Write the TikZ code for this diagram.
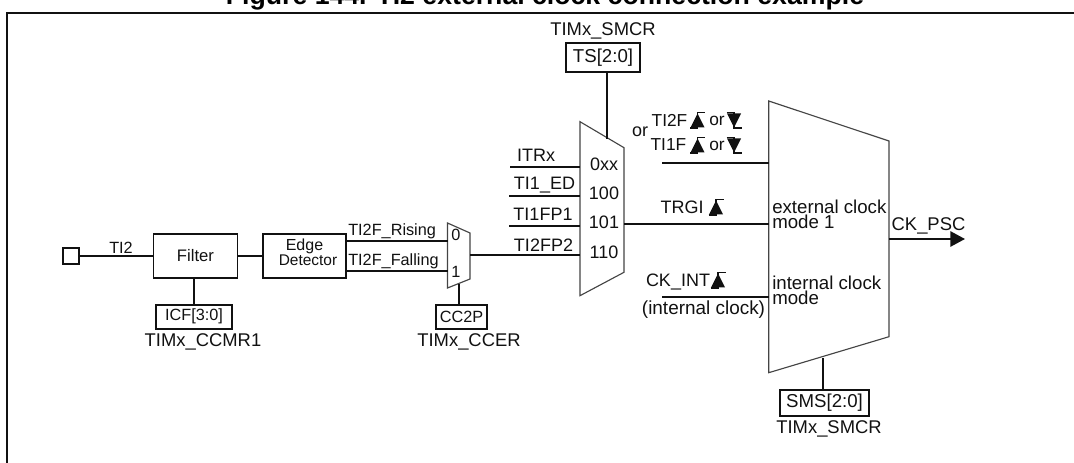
\documentclass[tikz,border=0pt]{standalone}
\usepackage{fontspec}
\setmainfont{Liberation Sans}
\usetikzlibrary{arrows.meta, calc}
\definecolor{clkInk}{HTML}{111111}
\definecolor{clkGray}{HTML}{444444}
\newcommand{\clkrise}[1]{%
  \fill[clkInk] ($#1+(-7,7.5)$) -- ($#1+(0,-6.5)$) -- ($#1+(7,7.5)$) -- cycle;
  \draw[clkInk, line width=1pt] ($#1+(-7.5,8)$) -- ($#1+(0,8)$) -- ($#1+(0,-7.5)$) -- ($#1+(7.5,-7.5)$);
}
\newcommand{\clkfall}[1]{%
  \fill[clkInk] ($#1+(-7,-6.5)$) -- ($#1+(0,7.5)$) -- ($#1+(7,-6.5)$) -- cycle;
  \draw[clkInk, line width=1pt] ($#1+(-7.5,-7.5)$) -- ($#1+(0,-7.5)$) -- ($#1+(0,8)$) -- ($#1+(7.5,8)$);
}
\tikzset{
  wire/.style={line width=1.4pt, clkInk},
  muxline/.style={line width=0.85pt, clkGray},
  block/.style={draw=clkInk, line width=1.4pt, inner sep=0pt, font=\fontsize{12.5}{12.5}\selectfont, text=clkInk, align=center},
  regbox/.style={block, font=\fontsize{14}{14}\selectfont},
  regsmall/.style={block, font=\fontsize{12.2}{12.2}\selectfont},
  sig/.style={inner sep=0pt, font=\fontsize{13.5}{13.5}\selectfont, text=clkInk},
  sigsmall/.style={sig, font=\fontsize{12.2}{12.2}\selectfont},
  modetext/.style={sig, anchor=west, align=left, font=\fontsize{14}{11}\selectfont},
  regname/.style={sig, font=\fontsize{13.8}{13.8}\selectfont}
}
\begin{document}
\begin{tikzpicture}[x=0.75pt, y=-0.75pt]
    \useasboundingbox (0,0) rectangle (1074,463);
    \node[anchor=base, inner sep=0pt, font=\fontsize{20}{20}\selectfont\bfseries] (title) at (545,4.5) {Figure 144. TI2 external clock connection example};
    \coordinate (frameA) at (7,463);
    \coordinate (frameB) at (7,13);
    \coordinate (frameC) at (1074,13);
    \draw[wire] (frameA) -- (frameB) -- (frameC);

    % input side
    \node[block, minimum width=12.5pt, minimum height=12.5pt] (pin) at (71,256) {};
    \node[block, minimum width=63pt, minimum height=33pt] (filter) at (195.5,256) {Filter};
    \node[block, minimum width=62.5pt, minimum height=33pt] (edgedet) at (304.5,256) {};
    \node[sigsmall, font=\fontsize{12}{12}\selectfont] (edgetop) at (304.5,246) {Edge};
    \node[sigsmall, font=\fontsize{11.6}{11.6}\selectfont] (edgebot) at (308,260) {Detector};
    \draw[wire] (pin) -- (filter);
    \draw[wire] (filter) -- (edgedet);
    \node[sigsmall] (ti2) at (121,248) {TI2};

    \node[regsmall, minimum width=57pt, minimum height=18pt] (icf) at (194,316.7) {ICF[3:0]};
    \node[regname] (ccmr) at (203,342) {TIMx\_CCMR1};
    \draw[wire] (filter.south -| icf.north) -- (icf.north);

    % first selector
    \coordinate (selA) at (447.5,223);
    \coordinate (selB) at (470,233);
    \coordinate (selC) at (470,279);
    \coordinate (selD) at (447.5,288);
    \draw[muxline] (selA) -- (selB) -- (selC) -- (selD) -- cycle;
    \node[sigsmall] (selzero) at (456,235) {0};
    \node[sigsmall] (selone) at (456,272) {1};
    \coordinate (risein) at (447.5,240.7);
    \coordinate (fallin) at (447.5,270.7);
    \coordinate (riseout) at (346,240.7);
    \coordinate (fallout) at (346,270.7);
    \draw[wire] (riseout) -- (risein);
    \draw[wire] (fallout) -- (fallin);
    \node[sigsmall, anchor=base west] (riselab) at (348,236) {TI2F\_Rising};
    \node[sigsmall, anchor=base west] (falllab) at (348,266) {TI2F\_Falling};
    \node[regsmall, minimum width=38pt, minimum height=18pt] (ccp) at (461.5,316.7) {CC2P};
    \node[regname] (ccer) at (469,342) {TIMx\_CCER};
    \coordinate (selctl) at (458.6,284);
    \draw[wire] (selctl) -- (selctl |- ccp.north);

    % trigger selector
    \coordinate (trgA) at (580,121.7);
    \coordinate (trgB) at (624,147.7);
    \coordinate (trgC) at (624,272.3);
    \coordinate (trgD) at (580,295.7);
    \draw[muxline] (trgA) -- (trgB) -- (trgC) -- (trgD) -- cycle;
    \coordinate (trgin1) at (510,166.7);
    \coordinate (trgin2) at (509,196);
    \coordinate (trgin3) at (509,225.7);
    \draw[wire] (trgin1) -- (trgin1 -| trgA);
    \draw[wire] (trgin2) -- (trgin2 -| trgA);
    \draw[wire] (trgin3) -- (trgin3 -| trgA);
    \coordinate (selout) at (470,255);
    \draw[wire] (selout) -- (selout -| trgA);
    \node[sig] (itrx) at (536,155.7) {ITRx};
    \node[sig] (tied) at (544.5,185) {TI1\_ED};
    \node[sig] (tifp1) at (543,214) {TI1FP1};
    \node[sig] (tifp2) at (543.5,245.7) {TI2FP2};
    \node[sig] (code0) at (604,164) {0xx};
    \node[sig] (code1) at (604,193) {100};
    \node[sig] (code2) at (604,222.7) {101};
    \node[sig] (code3) at (604,252) {110};
    \node[regbox, minimum width=55.5pt, minimum height=22pt] (ts) at (603,57.7) {TS[2:0]};
    \node[regname] (tssmcr) at (603,31) {TIMx\_SMCR};
    \coordinate (tsend) at (606.7,139);
    \draw[wire] (tsend |- ts.south) -- (tsend);

    % slave mode block
    \coordinate (modeA) at (768.7,101);
    \coordinate (modeB) at (889,141);
    \coordinate (modeC) at (889,336.7);
    \coordinate (modeD) at (768.7,372.7);
    \draw[muxline] (modeA) -- (modeB) -- (modeC) -- (modeD) -- cycle;
    \coordinate (tifin) at (662,163);
    \coordinate (trgout) at (624,224);
    \coordinate (intin) at (662,296.7);
    \draw[wire] (tifin) -- (tifin -| modeA);
    \draw[wire] (trgout) -- (trgout -| modeA);
    \draw[wire] (intin) -- (intin -| modeA);

    \node[sig] (orleft) at (640,132) {or};
    \node[sig, font=\fontsize{13}{13}\selectfont] (tiftwo) at (669.5,120) {TI2F};
    \node[sig, font=\fontsize{13}{13}\selectfont] (tifone) at (668.4,145) {TI1F};
    \node[sig, font=\fontsize{13}{13}\selectfont] (ortop) at (717,121) {or};
    \node[sig, font=\fontsize{13}{13}\selectfont] (orbot) at (717,146) {or};
    \clkrise{(697.5,120)}
    \clkfall{(734,120)}
    \clkrise{(697.5,145)}
    \clkfall{(734,145)}
    \node[sig] (trgi) at (682,207) {TRGI};
    \clkrise{(716,207)}
    \node[sig] (ckint) at (678,282) {CK\_INT};
    \clkrise{(718,280)}
    \node[regname, font=\fontsize{14.2}{14.2}\selectfont] (intclk) at (703.5,310) {(internal clock)};

    \node[modetext] (extmode) at (772,214) {external clock\\mode 1};
    \node[modetext] (intmode) at (772,290.5) {internal clock\\mode};

    \coordinate (psc) at (965,239);
    \draw[wire, -{Triangle[length=11pt, width=11.5pt]}] (psc -| modeB) -- (psc);
    \node[regname] (ckpsc) at (928.5,226) {CK\_PSC};

    \node[regbox, minimum width=66.8pt, minimum height=19.5pt] (sms) at (824.5,403) {SMS[2:0]};
    \node[regname] (smcr) at (829,429) {TIMx\_SMCR};
    \coordinate (smsend) at (823,357.7);
    \draw[wire] (smsend) -- (smsend |- sms.north);
  \end{tikzpicture}
\end{document}
